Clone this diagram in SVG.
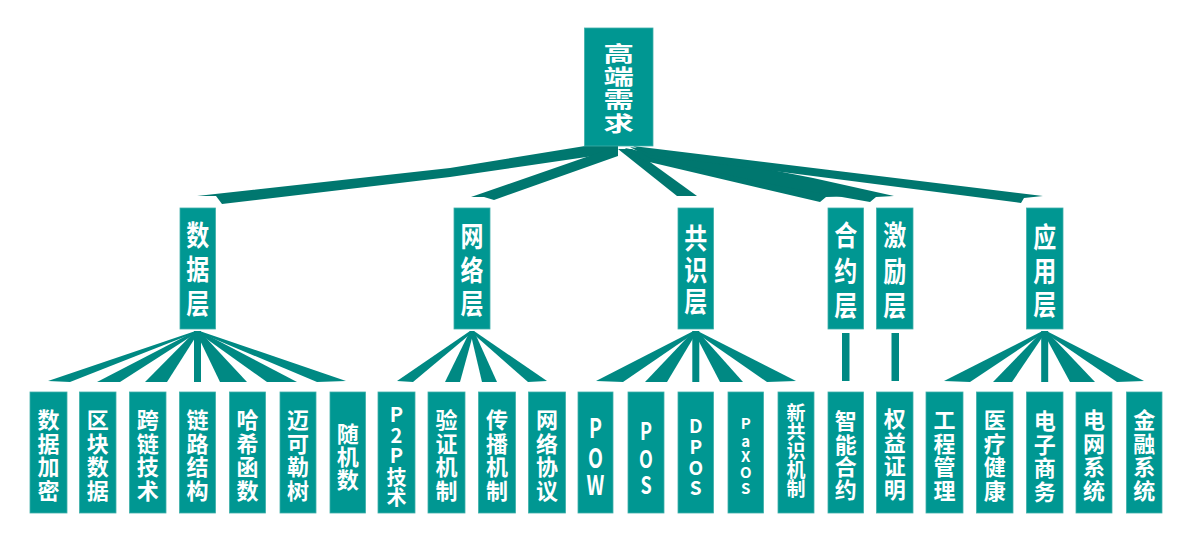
<svg xmlns="http://www.w3.org/2000/svg" width="1196" height="537" viewBox="0 0 1196 537">
<style>
.box{fill:#009792;stroke:#3fb0aa;stroke-width:0.8}
.up{fill:#00776f}
.lo{fill:#008983}
text{font-family:"Noto Sans CJK SC","Noto Sans",sans-serif;font-weight:bold;fill:#fff;text-anchor:middle;dominant-baseline:central}
.t0{font-size:21px}
.t1{font-size:23px}
.l4{font-size:22px}
.l5{font-size:19px}
</style>
<rect width="1196" height="537" fill="#fff"/>
<g id="connectors">
  <!-- top level -->
  <polygon class="up" points="618,143 585,146 450,168 197,196 216,196 222,204 450,177 600,155 618,151"/>
  <polygon class="up" points="618,146 471,197 484,197 494,200 618,156"/>
  <polygon class="up" points="618,149 677,196 697,196 632,149"/>
  <polygon class="up" points="625,148 862,196 826,197 820,202 645,161 630,153"/>
  <polygon class="up" points="630,147 700,156 813,178 894,196 876,197 870,202 780,186 650,158"/>
  <polygon class="up" points="633,146 1043,196 1024,198 1021,203 813,176 650,155"/>
  <!-- 数据层 fan -->
  <polygon class="lo" points="195.5,331 199.5,331 70,382 48,381"/>
  <polygon class="lo" points="195.5,331 199.5,331 120,382 97,382"/>
  <polygon class="lo" points="195.5,331 199.5,331 167,382 145,382"/>
  <rect class="lo" x="194" y="331" width="7" height="51"/>
  <polygon class="lo" points="195.5,331 199.5,331 247,382 220,382"/>
  <polygon class="lo" points="195.5,331 199.5,331 297,382 267,382"/>
  <polygon class="lo" points="195.5,331 199.5,331 346,381 317,382"/>
  <!-- 网络层 fan -->
  <polygon class="lo" points="470,331 474,331 413,382 397,381"/>
  <polygon class="lo" points="470,331 474,331 460,382 445,382"/>
  <polygon class="lo" points="470,331 474,331 497,382 482,382"/>
  <polygon class="lo" points="470,331 474,331 547,381 528,382"/>
  <!-- 共识层 fan -->
  <polygon class="lo" points="693.5,331 697.5,331 623,382 596,381"/>
  <polygon class="lo" points="693.5,331 697.5,331 667,382 645,382"/>
  <rect class="lo" x="692.3" y="331" width="7" height="51"/>
  <polygon class="lo" points="693.5,331 697.5,331 743,382 720,382"/>
  <polygon class="lo" points="693.5,331 697.5,331 796,381 767,382"/>
  <!-- 合约层 / 激励层 -->
  <rect class="lo" x="842" y="333" width="7.5" height="48"/>
  <rect class="lo" x="891.5" y="333" width="7.5" height="48"/>
  <!-- 应用层 fan -->
  <polygon class="lo" points="1042.5,331 1046.5,331 970,382 944,381"/>
  <polygon class="lo" points="1042.5,331 1046.5,331 1012,382 993,382"/>
  <rect class="lo" x="1041.2" y="331" width="7" height="51"/>
  <polygon class="lo" points="1042.5,331 1046.5,331 1095,382 1070,382"/>
  <polygon class="lo" points="1042.5,331 1046.5,331 1144,381 1117,382"/>
</g>

<g id="n-top">
  <rect class="box" x="584.5" y="28" width="68.5" height="118"/>
  <g transform="translate(618.7,0) scale(1.45,1)">
    <text class="t0"><tspan x="0" y="52">高</tspan><tspan x="0" y="75.3">端</tspan><tspan x="0" y="98.6">需</tspan><tspan x="0" y="121.9">求</tspan></text>
  </g>
</g>

<g id="n-data">
  <rect class="box" x="180" y="208" width="35.5" height="121"/>
  <g transform="translate(197.7,0) scale(1,1.22)"><text class="t1"><tspan x="0" y="190.6">数</tspan><tspan x="0" y="218.9">据</tspan><tspan x="0" y="246.7">层</tspan></text></g>
</g>
<g id="n-net">
  <rect class="box" x="454" y="208" width="36" height="121"/>
  <g transform="translate(472,0) scale(1,1.22)"><text class="t1"><tspan x="0" y="191.8">网</tspan><tspan x="0" y="219.3">络</tspan><tspan x="0" y="246.7">层</tspan></text></g>
</g>
<g id="n-cons">
  <rect class="box" x="678" y="208" width="35.5" height="121"/>
  <g transform="translate(695.75,0) scale(1,1.22)"><text class="t1"><tspan x="0" y="193.4">共</tspan><tspan x="0" y="219.3">识</tspan><tspan x="0" y="245.1">层</tspan></text></g>
</g>
<g id="n-contract">
  <rect class="box" x="828" y="208" width="35.5" height="121"/>
  <g transform="translate(845.75,0) scale(1,1.22)"><text class="t1"><tspan x="0" y="190.6">合</tspan><tspan x="0" y="220.5">约</tspan><tspan x="0" y="248.4">层</tspan></text></g>
</g>
<g id="n-incent">
  <rect class="box" x="876.5" y="208" width="36.5" height="121"/>
  <g transform="translate(894.75,0) scale(1,1.22)"><text class="t1"><tspan x="0" y="190.6">激</tspan><tspan x="0" y="220.5">励</tspan><tspan x="0" y="248.4">层</tspan></text></g>
</g>
<g id="n-app">
  <rect class="box" x="1026.5" y="208" width="36.5" height="121"/>
  <g transform="translate(1044.75,0) scale(1,1.22)"><text class="t1"><tspan x="0" y="192.6">应</tspan><tspan x="0" y="220.5">用</tspan><tspan x="0" y="247.5">层</tspan></text></g>
</g>

<g id="leaf-1"><rect class="box" x="30" y="392" width="37" height="121"/><text class="l4"><tspan x="48.5" y="418">数</tspan><tspan x="48.5" y="441.5">据</tspan><tspan x="48.5" y="465">加</tspan><tspan x="48.5" y="488.5">密</tspan></text></g>
<g id="leaf-2"><rect class="box" x="79.5" y="392" width="36.5" height="121"/><text class="l4"><tspan x="97.75" y="418">区</tspan><tspan x="97.75" y="441.5">块</tspan><tspan x="97.75" y="465">数</tspan><tspan x="97.75" y="488.5">据</tspan></text></g>
<g id="leaf-3"><rect class="box" x="129.5" y="392" width="36.5" height="121"/><text class="l4"><tspan x="147.75" y="418">跨</tspan><tspan x="147.75" y="441.5">链</tspan><tspan x="147.75" y="465">技</tspan><tspan x="147.75" y="488.5">术</tspan></text></g>
<g id="leaf-4"><rect class="box" x="179.5" y="392" width="36" height="121"/><text class="l4"><tspan x="197.5" y="418">链</tspan><tspan x="197.5" y="441.5">路</tspan><tspan x="197.5" y="465">结</tspan><tspan x="197.5" y="488.5">构</tspan></text></g>
<g id="leaf-5"><rect class="box" x="229.5" y="392" width="36" height="121"/><text class="l4"><tspan x="247.5" y="418">哈</tspan><tspan x="247.5" y="441.5">希</tspan><tspan x="247.5" y="465">函</tspan><tspan x="247.5" y="488.5">数</tspan></text></g>
<g id="leaf-6"><rect class="box" x="280" y="392" width="36" height="121"/><text class="l4"><tspan x="298" y="418">迈</tspan><tspan x="298" y="441.5">可</tspan><tspan x="298" y="465">勒</tspan><tspan x="298" y="488.5">树</tspan></text></g>
<g id="leaf-7"><rect class="box" x="330" y="392" width="35.5" height="121"/><text class="l4"><tspan x="347.75" y="432">随</tspan><tspan x="347.75" y="455">机</tspan><tspan x="347.75" y="478">数</tspan></text></g>
<g id="leaf-8"><rect class="box" x="378" y="392" width="37" height="121"/><text style="font-size:20px"><tspan x="396.5" y="413">P</tspan><tspan x="396.5" y="434">2</tspan><tspan x="396.5" y="454">P</tspan><tspan x="396.5" y="476">技</tspan><tspan x="396.5" y="496">术</tspan></text></g>
<g id="leaf-9"><rect class="box" x="428" y="392" width="37" height="121"/><text class="l4"><tspan x="446.5" y="418">验</tspan><tspan x="446.5" y="441.5">证</tspan><tspan x="446.5" y="465">机</tspan><tspan x="446.5" y="488.5">制</tspan></text></g>
<g id="leaf-10"><rect class="box" x="478.5" y="392" width="37" height="121"/><text class="l4"><tspan x="497" y="418">传</tspan><tspan x="497" y="441.5">播</tspan><tspan x="497" y="465">机</tspan><tspan x="497" y="488.5">制</tspan></text></g>
<g id="leaf-11"><rect class="box" x="528.5" y="392" width="37" height="121"/><text class="l4"><tspan x="547" y="418">网</tspan><tspan x="547" y="441.5">络</tspan><tspan x="547" y="465">协</tspan><tspan x="547" y="488.5">议</tspan></text></g>
<g id="leaf-12"><rect class="box" x="578" y="392" width="35" height="121"/><g transform="translate(595.5,0) scale(0.72,1)"><text style="font-size:27px"><tspan x="0" y="427">P</tspan><tspan x="0" y="456.5">O</tspan><tspan x="0" y="484">W</tspan></text></g></g>
<g id="leaf-13"><rect class="box" x="628" y="392" width="36" height="121"/><g transform="translate(646,0) scale(0.75,1)"><text style="font-size:24px"><tspan x="0" y="429">P</tspan><tspan x="0" y="456.5">O</tspan><tspan x="0" y="482.5">S</tspan></text></g></g>
<g id="leaf-14"><rect class="box" x="678" y="392" width="35.5" height="121"/><text style="font-size:19px"><tspan x="695.75" y="424">D</tspan><tspan x="695.75" y="445">P</tspan><tspan x="695.75" y="465.5">O</tspan><tspan x="695.75" y="486">S</tspan></text></g>
<g id="leaf-15"><rect class="box" x="728" y="392" width="35.5" height="121"/><text style="font-size:15px"><tspan x="745.75" y="422">P</tspan><tspan x="745.75" y="439.5">a</tspan><tspan x="745.75" y="455">X</tspan><tspan x="745.75" y="470.5">O</tspan><tspan x="745.75" y="487">S</tspan></text></g>
<g id="leaf-16"><rect class="box" x="778" y="392" width="36" height="121"/><text class="l5"><tspan x="796" y="411">新</tspan><tspan x="796" y="430">共</tspan><tspan x="796" y="449">识</tspan><tspan x="796" y="468">机</tspan><tspan x="796" y="487">制</tspan></text></g>
<g id="leaf-17"><rect class="box" x="828" y="392" width="35.5" height="121"/><text class="l4"><tspan x="845.75" y="419">智</tspan><tspan x="845.75" y="442.5">能</tspan><tspan x="845.75" y="465">合</tspan><tspan x="845.75" y="488">约</tspan></text></g>
<g id="leaf-18"><rect class="box" x="876.5" y="392" width="36.5" height="121"/><text class="l4"><tspan x="894.75" y="417">权</tspan><tspan x="894.75" y="440.5">益</tspan><tspan x="894.75" y="464">证</tspan><tspan x="894.75" y="487.5">明</tspan></text></g>
<g id="leaf-19"><rect class="box" x="926" y="392" width="37" height="121"/><text class="l4"><tspan x="944.5" y="418">工</tspan><tspan x="944.5" y="441.5">程</tspan><tspan x="944.5" y="465">管</tspan><tspan x="944.5" y="488.5">理</tspan></text></g>
<g id="leaf-20"><rect class="box" x="976.5" y="392" width="36.5" height="121"/><text class="l4"><tspan x="994.75" y="418">医</tspan><tspan x="994.75" y="441.5">疗</tspan><tspan x="994.75" y="465">健</tspan><tspan x="994.75" y="488.5">康</tspan></text></g>
<g id="leaf-21"><rect class="box" x="1026.5" y="392" width="36.5" height="121"/><text class="l4"><tspan x="1044.75" y="419">电</tspan><tspan x="1044.75" y="442.5">子</tspan><tspan x="1044.75" y="466">商</tspan><tspan x="1044.75" y="489.5">务</tspan></text></g>
<g id="leaf-22"><rect class="box" x="1076" y="392" width="36" height="121"/><text class="l4"><tspan x="1094" y="418">电</tspan><tspan x="1094" y="441.5">网</tspan><tspan x="1094" y="465">系</tspan><tspan x="1094" y="488.5">统</tspan></text></g>
<g id="leaf-23"><rect class="box" x="1126.5" y="392" width="35.5" height="121"/><text class="l4"><tspan x="1144.25" y="418">金</tspan><tspan x="1144.25" y="441.5">融</tspan><tspan x="1144.25" y="465">系</tspan><tspan x="1144.25" y="488.5">统</tspan></text></g>
</svg>
